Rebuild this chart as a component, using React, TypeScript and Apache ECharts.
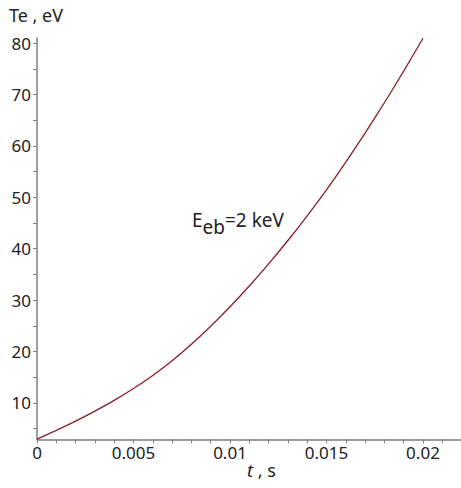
import React, { useEffect, useRef } from "react";
import * as echarts from "echarts";

const times = [0, 0.001, 0.002, 0.003, 0.004, 0.005, 0.006, 0.007, 0.008, 0.009, 0.01, 0.011, 0.012, 0.013, 0.014, 0.015, 0.016, 0.017, 0.018, 0.019, 0.02];
const teValues = [2.95, 4.65, 6.45, 8.4, 10.5, 12.8, 15.35, 18.2, 21.4, 24.9, 28.7, 32.75, 37.05, 41.6, 46.4, 51.45, 56.85, 62.5, 68.4, 74.55, 80.95];

const xLabelValues = [0, 0.005, 0.01, 0.015, 0.02];
const xTickValues = [0, 0.001, 0.002, 0.003, 0.004, 0.005, 0.006, 0.007, 0.008, 0.009, 0.01, 0.011, 0.012, 0.013, 0.014, 0.015, 0.016, 0.017, 0.018, 0.019, 0.02, 0.021];
const yLabelValues = [10, 20, 30, 40, 50, 60, 70, 80];
const yTickValues = [5, 10, 15, 20, 25, 30, 35, 40, 45, 50, 55, 60, 65, 70, 75, 80];

const FONT = "'Noto Sans', 'Open Sans', sans-serif";
const TEXT = "#222222";
const AXIS = "#7f7f7f";

export default function App() {
  const ref = useRef<HTMLDivElement>(null);
  useEffect(() => {
    document.body.style.margin = "0";
    const chart = echarts.init(ref.current!, undefined, { renderer: "svg" });
    const axisCommon = {
      axisLine: { show: true, lineStyle: { color: AXIS, width: 1.5 } },
      splitLine: { show: false },
    };
    chart.setOption({
      animation: false,
      backgroundColor: "#ffffff",
      grid: { left: 37, right: 0, top: 38, bottom: 48.6, containLabel: false },
      xAxis: {
        type: "value",
        min: 0,
        max: 0.02197,
        ...axisCommon,
        axisTick: { show: true, customValues: xTickValues, length: 4, lineStyle: { color: AXIS, width: 1 } },
        axisLabel: {
          customValues: xLabelValues,
          color: TEXT,
          fontFamily: FONT,
          fontSize: 17,
          margin: 5,
          formatter: (v: number) => String(v),
        },
      },
      yAxis: {
        type: "value",
        min: 2.9,
        max: 81,
        ...axisCommon,
        axisTick: { show: true, customValues: yTickValues, length: 4, lineStyle: { color: AXIS, width: 1 } },
        axisLabel: {
          customValues: yLabelValues,
          color: TEXT,
          fontFamily: FONT,
          fontSize: 17,
          margin: 6,
        },
      },
      series: [
        {
          type: "line",
          data: times.map((t, i) => [t, teValues[i]]),
          smooth: 0.25,
          showSymbol: false,
          lineStyle: { color: "#8b1c2c", width: 1.3 },
        },
      ],
      graphic: [
        {
          type: "text",
          left: 9,
          top: 6,
          style: { text: "Te , eV", font: `18px ${FONT}`, fill: TEXT },
        },
        {
          type: "text",
          left: 247,
          top: 461,
          style: {
            text: "{i|t} , s",
            font: `18px ${FONT}`,
            fill: TEXT,
            rich: { i: { fontStyle: "italic", fontFamily: FONT, fontSize: 18, fill: TEXT } },
          },
        },
        {
          type: "text",
          left: 192,
          top: 210,
          style: {
            text: "{m|E}{sub|eb}{m|=2 keV}",
            font: `19px ${FONT}`,
            fill: TEXT,
            rich: {
              m: { fontSize: 19, fontFamily: FONT, fill: TEXT, verticalAlign: "top" },
              sub: { fontSize: 19, fontFamily: FONT, fill: TEXT, verticalAlign: "top", padding: [7, 0, 0, 0] },
            },
          },
        },
      ],
    });
    return () => chart.dispose();
  }, []);
  return <div ref={ref} style={{ position: "absolute", left: 0, top: 0, width: 461, height: 488 }} />;
}
